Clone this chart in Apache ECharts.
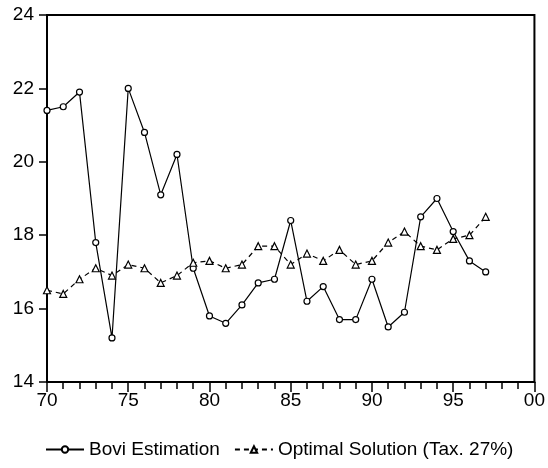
<!DOCTYPE html>
<html>
<head>
<meta charset="utf-8">
<script src="https://cdn.jsdelivr.net/npm/echarts@6/dist/echarts.min.js"></script>
<style>
html,body{margin:0;padding:0;background:#fff;}
#chart{width:548px;height:468px;}
</style>
</head>
<body>
<div id="chart"></div>
<script>
const years = [70,71,72,73,74,75,76,77,78,79,80,81,82,83,84,85,86,87,88,89,90,91,92,93,94,95,96,97];
const boviEstimation = [21.4,21.5,21.9,17.8,15.2,22.0,20.8,19.1,20.2,17.1,15.8,15.6,16.1,16.7,16.8,18.4,16.2,16.6,15.7,15.7,16.8,15.5,15.9,18.5,19.0,18.1,17.3,17.0];
const optimalSolution = [16.5,16.4,16.8,17.1,16.9,17.2,17.1,16.7,16.9,17.25,17.3,17.1,17.2,17.7,17.7,17.2,17.5,17.3,17.6,17.2,17.3,17.8,18.1,17.7,17.6,17.9,18.0,18.5];
const seriesNames = ['Bovi Estimation','Optimal Solution (Tax. 27%)'];

const chart = echarts.init(document.getElementById('chart'));
const font = 'Liberation Sans, Arial, sans-serif';
chart.setOption({
  animation: false,
  backgroundColor: '#fff',
  grid: {left: 47, right: 11, top: 15, bottom: 86, show: true, borderColor: '#000', borderWidth: 2, backgroundColor: 'transparent'},
  legend: {
    left: 45, top: 440, padding: 0, itemWidth: 38, itemHeight: 8, itemGap: 14,
    textStyle: {fontFamily: font, fontSize: 19, color: '#000'},
    data: seriesNames
  },
  xAxis: {
    type: 'value', min: 70, max: 100, interval: 5, splitNumber: 6,
    axisLine: {show: true, lineStyle: {color: '#000', width: 2}},
    axisTick: {show: true, length: 10, inside: false, lineStyle: {color: '#000', width: 1.5}},
    minorTick: {show: true, splitNumber: 5, length: 7, lineStyle: {color: '#000', width: 1.5}},
    splitLine: {show: false},
    axisLabel: {margin: 9, fontFamily: font, fontSize: 19, color: '#000',
      formatter: v => String(v % 100).padStart(2, '0')}
  },
  yAxis: {
    type: 'value', min: 14, max: 24, interval: 2,
    axisLine: {show: true, lineStyle: {color: '#000', width: 2}},
    axisTick: {show: true, length: 8, inside: false, lineStyle: {color: '#000', width: 1.5}},
    splitLine: {show: false},
    axisLabel: {margin: 13, fontFamily: font, fontSize: 19, color: '#000'}
  },
  series: [
    {
      name: seriesNames[0], type: 'line',
      data: years.map((y, i) => [y, boviEstimation[i]]),
      symbol: 'circle', symbolSize: 6, showAllSymbol: true,
      lineStyle: {color: '#000', width: 1.2, type: 'solid'},
      itemStyle: {color: '#fff', borderColor: '#000', borderWidth: 1.2}
    },
    {
      name: seriesNames[1], type: 'line',
      data: years.map((y, i) => [y, optimalSolution[i]]),
      symbol: 'triangle', symbolSize: 7, showAllSymbol: true,
      lineStyle: {color: '#000', width: 1.2, type: [5, 4]},
      itemStyle: {color: '#fff', borderColor: '#000', borderWidth: 1.2}
    }
  ]
});
</script>
</body>
</html>
